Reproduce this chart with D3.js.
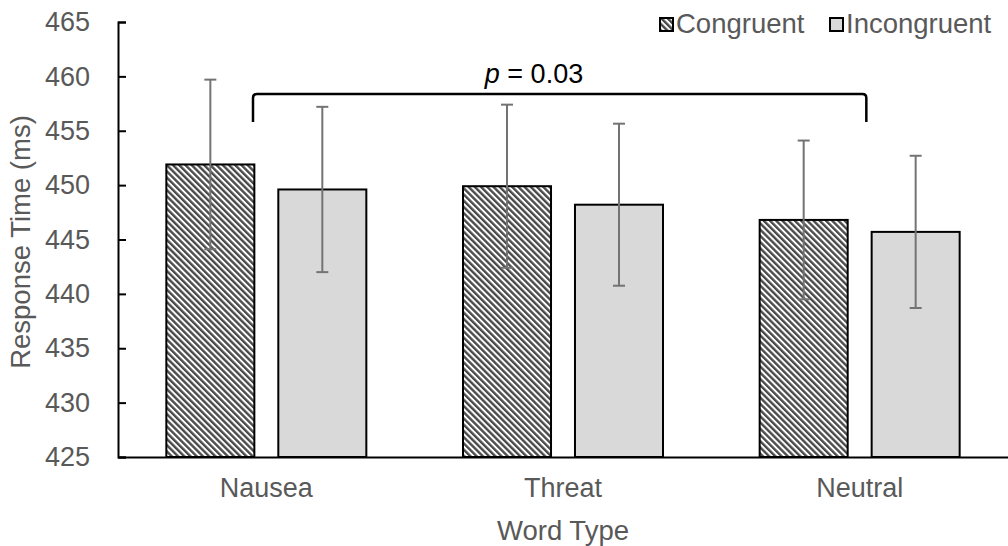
<!DOCTYPE html>
<html>
<head>
<meta charset="utf-8">
<script src="https://cdn.jsdelivr.net/npm/d3@7"></script>
<style>
  body { margin: 0; background: #fff; }
  text { font-family: "Liberation Sans", Arial, sans-serif; }
</style>
</head>
<body>
<div id="chart"></div>
<script>
var w = 1008;
var h = 546;

// data
var wordTypes = ["Nausea", "Threat", "Neutral"];
var seriesNames = ["Congruent", "Incongruent"];
var congruent = [451.9, 449.9, 446.8];
var incongruent = [449.6, 448.2, 445.7];
var congruentErr = [7.8, 7.5, 7.3];
var incongruentErr = [7.6, 7.45, 7.0];
var yTicks = [425, 430, 435, 440, 445, 450, 455, 460, 465];

var rows = [];
wordTypes.forEach(function(t, i) {
  rows.push({type: t, series: "Congruent", value: congruent[i], err: congruentErr[i]});
  rows.push({type: t, series: "Incongruent", value: incongruent[i], err: incongruentErr[i]});
});

var svg = d3.select("#chart").append("svg")
  .attr("width", w)
  .attr("height", h);

var defs = svg.append("defs");
var pat = defs.append("pattern")
  .attr("id", "stripes")
  .attr("patternUnits", "userSpaceOnUse")
  .attr("width", 4.4)
  .attr("height", 4.4)
  .attr("patternTransform", "rotate(-45)");
pat.append("rect").attr("width", 4.4).attr("height", 4.4).attr("fill", "#fff");
pat.append("rect").attr("width", 2.4).attr("height", 4.4).attr("fill", "#4a4a4a");

var x0 = d3.scaleBand().domain(wordTypes).range([118, 1008]);
var groupW = 200;
var x1 = d3.scaleBand().domain(seriesNames)
  .range([0, groupW])
  .paddingInner(0.214);
var y = d3.scaleLinear().domain([425, 465]).range([457, 22]);

function fillFor(s) {
  return s == "Congruent" ? "url(#stripes)" : "#d9d9d9";
}
function barX(d) {
  return x0(d.type) + (x0.bandwidth() - groupW) / 2 + x1(d.series);
}

// bars
svg.selectAll("rect.bar")
  .data(rows)
  .enter()
  .append("rect")
  .attr("class", "bar")
  .attr("x", barX)
  .attr("y", function(d) { return y(d.value); })
  .attr("width", x1.bandwidth())
  .attr("height", function(d) { return y(425) - y(d.value); })
  .attr("fill", function(d) { return fillFor(d.series); })
  .attr("stroke", "#000")
  .attr("stroke-width", 2);

// error bars
var eb = svg.selectAll("g.err")
  .data(rows)
  .enter()
  .append("g")
  .attr("class", "err")
  .attr("stroke", "#737373")
  .attr("stroke-width", 2);
eb.append("line")
  .attr("x1", function(d) { return barX(d) + x1.bandwidth() / 2; })
  .attr("x2", function(d) { return barX(d) + x1.bandwidth() / 2; })
  .attr("y1", function(d) { return y(d.value + d.err); })
  .attr("y2", function(d) { return y(d.value - d.err); });
[1, -1].forEach(function(sign) {
  eb.append("line")
    .attr("x1", function(d) { return barX(d) + x1.bandwidth() / 2 - 6; })
    .attr("x2", function(d) { return barX(d) + x1.bandwidth() / 2 + 6; })
    .attr("y1", function(d) { return y(d.value + sign * d.err); })
    .attr("y2", function(d) { return y(d.value + sign * d.err); });
});

// y axis, ticks inside
var yAxis = svg.append("g")
  .attr("transform", "translate(118,0)")
  .call(d3.axisRight(y).tickValues(yTicks).tickSize(8).tickFormat(d3.format("d")));
yAxis.select(".domain").attr("stroke", "#000").attr("stroke-width", 2);
yAxis.selectAll(".tick line").attr("stroke", "#000").attr("stroke-width", 2);
yAxis.selectAll(".tick text")
  .attr("x", -28)
  .attr("text-anchor", "end")
  .attr("fill", "#595959")
  .style("font-size", "27px");

// x axis
var xAxis = svg.append("g")
  .attr("transform", "translate(0,457)")
  .call(d3.axisBottom(x0).tickSize(0).tickPadding(21));
xAxis.select(".domain").attr("stroke", "#000").attr("stroke-width", 2);
xAxis.selectAll(".tick text")
  .attr("fill", "#595959")
  .style("font-size", "27px");

// axis titles
svg.append("text")
  .attr("x", 563)
  .attr("y", 540)
  .attr("text-anchor", "middle")
  .attr("fill", "#595959")
  .style("font-size", "27.5px")
  .text("Word Type");
svg.append("text")
  .attr("transform", "translate(30,242) rotate(-90)")
  .attr("text-anchor", "middle")
  .attr("fill", "#595959")
  .style("font-size", "27.5px")
  .text("Response Time (ms)");

// significance bracket
var bx1 = x0("Nausea") + 135, bx2 = x0("Neutral") + 155;
svg.append("path")
  .attr("d", "M" + bx1 + ",122 L" + bx1 + ",98 Q" + bx1 + ",94 " + (bx1 + 4) + ",94 L" + (bx2 - 4) + ",94 Q" + bx2 + ",94 " + bx2 + ",98 L" + bx2 + ",122")
  .attr("fill", "none")
  .attr("stroke", "#000")
  .attr("stroke-width", 2.5);
var pt = svg.append("text")
  .attr("x", 534)
  .attr("y", 83)
  .attr("text-anchor", "middle")
  .attr("fill", "#000")
  .style("font-size", "27px");
pt.append("tspan").style("font-style", "italic").text("p");
pt.append("tspan").text(" = 0.03");

// legend
var legendX = [660, 830];
var legend = svg.selectAll("g.legend")
  .data(seriesNames)
  .enter()
  .append("g")
  .attr("class", "legend")
  .attr("transform", function(d, i) { return "translate(" + legendX[i] + ",0)"; });
legend.append("rect")
  .attr("x", 0)
  .attr("y", 18)
  .attr("width", 13)
  .attr("height", 13)
  .attr("fill", function(d) { return fillFor(d); })
  .attr("stroke", "#000")
  .attr("stroke-width", 2);
legend.append("text")
  .attr("x", 16)
  .attr("y", 33)
  .attr("fill", "#595959")
  .style("font-size", "27.5px")
  .text(function(d) { return d; });
</script>
</body>
</html>
